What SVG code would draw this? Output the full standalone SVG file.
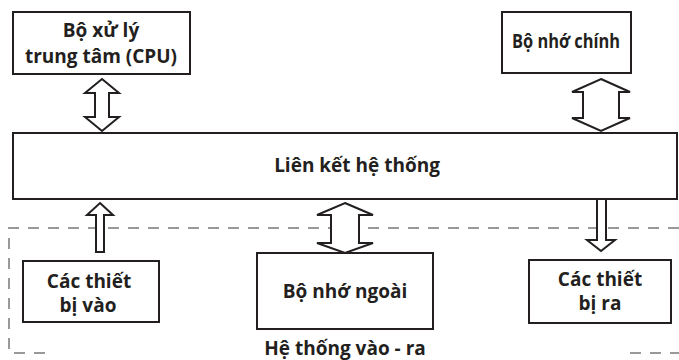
<svg xmlns="http://www.w3.org/2000/svg" width="679" height="360" viewBox="0 0 679 360">
<style>
.box{fill:#fff;stroke:#231f20;stroke-width:2}
.arr{fill:#fff;stroke:#231f20;stroke-width:2;stroke-linejoin:miter}
.dash{fill:none;stroke:#999;stroke-width:2;stroke-dasharray:11 9}
text{font-family:"Open Sans","Noto Sans","Liberation Sans",sans-serif;font-weight:700;font-size:19px;fill:#231f20;text-anchor:middle}
</style>
<rect width="679" height="360" fill="#fff"/>
<g id="io-system">
<polyline class="dash" points="679,228 9,228 9,353 47,353"/>
<line class="dash" x1="630" y1="353" x2="679" y2="353"/>
<text x="345" y="355">Hệ thống vào - ra</text>
</g>
<g id="connectors">
<polygon class="arr" points="102,79 119,93 109,93 109,117 119,117 102,131 85,117 95,117 95,93 85,93"/>
<polygon class="arr" points="601,79 630,92 619,92 619,118 630,118 601,131 572,118 583,118 583,92 572,92"/>
<polygon class="arr" points="100,203 113,215 104,215 104,252 96,252 96,215 87,215"/>
<polygon class="arr" points="345,203 373,215 359,215 359,243 373,243 345,253 317,243 331,243 331,215 317,215"/>
<polygon class="arr" points="597,199 606,199 606,240 615,240 601,251 587,240 597,240"/>
</g>
<g id="cpu">
<rect class="box" x="13" y="12" width="177" height="62"/>
<text x="101" y="37">Bộ xử lý</text>
<text x="101" y="63">trung tâm (CPU)</text>
</g>
<g id="main-memory">
<rect class="box" x="502" y="12" width="129" height="61"/>
<text x="566" y="48" textLength="108" lengthAdjust="spacingAndGlyphs">Bộ nhớ chính</text>
</g>
<g id="bus">
<rect class="box" x="13" y="133" width="664" height="66"/>
<text x="357" y="172">Liên kết hệ thống</text>
</g>
<g id="input">
<rect class="box" x="23" y="261" width="136" height="61"/>
<text x="89" y="288">Các thiết</text>
<text x="88" y="312">bị vào</text>
</g>
<g id="storage">
<rect class="box" x="257" y="253" width="176" height="76"/>
<text x="345" y="298">Bộ nhớ ngoài</text>
</g>
<g id="output">
<rect class="box" x="529" y="260" width="142" height="63"/>
<text x="600" y="286">Các thiết</text>
<text x="600" y="310">bị ra</text>
</g>
</svg>
